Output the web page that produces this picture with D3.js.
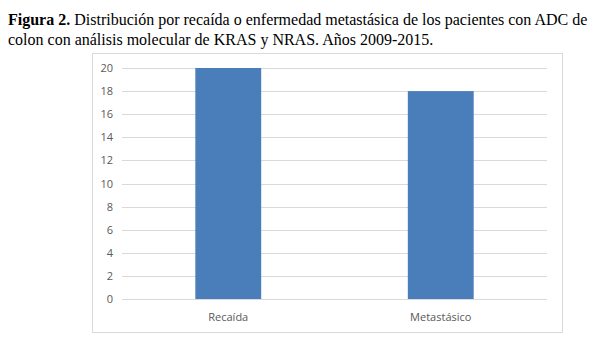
<!DOCTYPE html>
<html>
<head>
<meta charset="utf-8">
<script src="https://cdn.jsdelivr.net/npm/d3@7"></script>
<style>
  body { margin: 0; background: #fff; }
</style>
</head>
<body>
<svg id="chart" width="605" height="340"></svg>
<script>
const categories = ["Recaída", "Metastásico"];
const values = [20, 18];
const yTicks = [0, 2, 4, 6, 8, 10, 12, 14, 16, 18, 20];
const captionBold = "Figura 2.";
const captionLine1 = " Distribución por recaída o enfermedad metastásica de los pacientes con ADC de";
const captionLine2 = "colon con análisis molecular de KRAS y NRAS. Años 2009-2015.";

const chartBox = {left: 92, top: 53, right: 562, bottom: 332};
const plotMargin = {top: 68, right: 547, bottom: 299, left: 122};

const svg = d3.select("#chart");

// caption above the chart
const caption = svg.append("text")
    .attr("x", 8)
    .attr("y", 25)
    .style("font-family", "'Liberation Serif', 'Times New Roman', serif")
    .style("font-size", "16px")
    .attr("fill", "#000");
caption.append("tspan").style("font-weight", "bold").text(captionBold);
caption.append("tspan").text(captionLine1);

svg.append("text")
    .attr("x", 8)
    .attr("y", 45)
    .style("font-family", "'Liberation Serif', 'Times New Roman', serif")
    .style("font-size", "16px")
    .attr("fill", "#000")
    .text(captionLine2);

// chart frame
svg.append("rect")
    .attr("x", chartBox.left + 0.5)
    .attr("y", chartBox.top + 0.5)
    .attr("width", chartBox.right - chartBox.left)
    .attr("height", chartBox.bottom - chartBox.top)
    .attr("fill", "#fff")
    .attr("stroke", "#d9d9d9");

const xScale = d3.scaleBand()
    .domain(categories)
    .range([plotMargin.left, plotMargin.right])
    .paddingInner(0.69)
    .paddingOuter(0.345);

const yScale = d3.scaleLinear()
    .domain([0, 20])
    .range([plotMargin.bottom, plotMargin.top]);

// gridlines
svg.append("g")
    .selectAll("line")
    .data(yTicks)
    .join("line")
    .attr("x1", plotMargin.left)
    .attr("x2", plotMargin.right)
    .attr("y1", d => Math.round(yScale(d)) + 0.5)
    .attr("y2", d => Math.round(yScale(d)) + 0.5)
    .attr("stroke", "#d9d9d9")
    .attr("stroke-width", 1);

// y axis labels
const yAxis = svg.append("g")
    .attr("transform", "translate(" + (plotMargin.left - 9) + ",0)")
    .call(d3.axisLeft(yScale).tickValues(yTicks).tickSize(0).tickPadding(0));
yAxis.select(".domain").remove();
yAxis.selectAll("text")
    .style("font-family", "'Open Sans', 'DejaVu Sans', sans-serif")
    .style("font-size", "11px")
    .attr("fill", "#595959");

// bars
svg.append("g")
    .selectAll("rect")
    .data(values)
    .join("rect")
    .attr("x", (d, i) => xScale(categories[i]))
    .attr("y", d => yScale(d))
    .attr("width", xScale.bandwidth())
    .attr("height", d => yScale(0) - yScale(d))
    .attr("fill", "#4a7ebb");

// x axis labels
const xAxis = svg.append("g")
    .attr("transform", "translate(0," + (plotMargin.bottom + 8) + ")")
    .call(d3.axisBottom(xScale).tickSize(0).tickPadding(6));
xAxis.select(".domain").remove();
xAxis.selectAll("text")
    .style("font-family", "'Open Sans', 'DejaVu Sans', sans-serif")
    .style("font-size", "11px")
    .attr("fill", "#595959");
</script>
</body>
</html>
